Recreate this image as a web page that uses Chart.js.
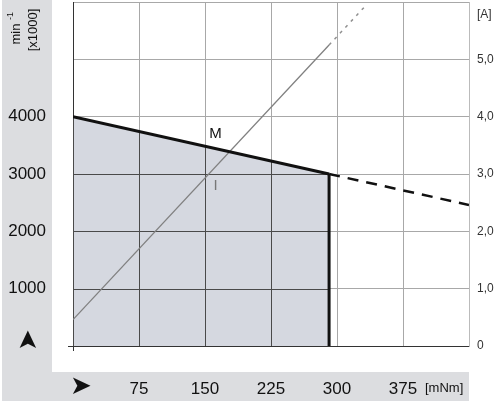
<!DOCTYPE html>
<html>
<head>
<meta charset="utf-8">
<script src="https://cdn.jsdelivr.net/npm/chart.js@4/dist/chart.umd.min.js"></script>
<style>
  html, body { margin: 0; padding: 0; background: #fff; }
  #wrap { width: 500px; height: 403px; }
</style>
</head>
<body>
<div id="wrap"><canvas id="motorChart" width="500" height="403"></canvas></div>
<script>
// torque [mNm] / speed [min-1] / current [A]
const torqueM = [0, 291];
const speedM = [4000, 3000];
const torqueMExt = [291, 450];
const speedMExt = [3000, 2460];
const torqueStall = [291, 291];
const speedStall = [3000, 0];
const torqueI = [0, 291];
const currentI = [0.46, 5.25];
const torqueIExt = [291, 334];
const currentIExt = [5.25, 5.96];

const xTicks = [0, 75, 150, 225, 300, 375, 450];
const yTicks = [0, 1000, 2000, 3000, 4000, 5000, 6000];
const y2Ticks = [0, 1, 2, 3, 4, 5, 6];

// curve names, placed in data coords (rpm scale)
const curveLabels = [
  { text: "M", x: 162, y: 3700, color: "#111" },
  { text: "I", x: 162, y: 2800, color: "#777" }
];

const FONT = "'Liberation Sans', Arial, Helvetica, sans-serif";
const pts = (xs, ys) => xs.map((x, i) => ({ x: x, y: ys[i] }));
const noPad = s => { s.paddingTop = 0; s.paddingBottom = 0; s.paddingLeft = 0; s.paddingRight = 0; };

const decorPlugin = {
  id: "decor",
  beforeDraw(chart) {
    const ctx = chart.ctx;
    ctx.save();
    ctx.fillStyle = "#fff";
    ctx.fillRect(0, 0, chart.width, chart.height);
    // grey bands
    ctx.fillStyle = "#dcdde0";
    ctx.fillRect(2, 0, 50, 401);
    ctx.fillRect(2, 372, chart.chartArea.right - 2, 29);
    ctx.restore();
  },
  beforeDatasetsDraw(chart) {
    // grid looks darker where it runs through the shaded area
    const ctx = chart.ctx;
    const x = chart.scales.x, y = chart.scales.y;
    const m = chart.getDatasetMeta(0).data;
    const base = y.getPixelForValue(0);
    ctx.save();
    ctx.beginPath();
    ctx.moveTo(m[0].x, base);
    m.forEach(p => ctx.lineTo(p.x, p.y));
    ctx.lineTo(m[m.length - 1].x, base);
    ctx.closePath();
    ctx.clip();
    ctx.strokeStyle = "#4a4a4a";
    ctx.lineWidth = 1;
    ctx.beginPath();
    xTicks.forEach(t => {
      const px = Math.round(x.getPixelForValue(t)) + 0.5;
      ctx.moveTo(px, chart.chartArea.top);
      ctx.lineTo(px, base);
    });
    yTicks.forEach(t => {
      const py = Math.round(y.getPixelForValue(t)) + 0.5;
      ctx.moveTo(chart.chartArea.left, py);
      ctx.lineTo(chart.chartArea.right, py);
    });
    ctx.stroke();
    ctx.restore();
  },
  afterDraw(chart) {
    const ctx = chart.ctx;
    const x = chart.scales.x, y = chart.scales.y, area = chart.chartArea;
    ctx.save();
    // axis arrows
    ctx.fillStyle = "#111";
    ctx.font = "26px 'DejaVu Sans', sans-serif";
    ctx.textAlign = "center";
    ctx.textBaseline = "middle";
    ctx.save();
    ctx.translate(29, y.getPixelForValue(0) - 6);
    ctx.rotate(-Math.PI / 2);
    ctx.fillText("➤", 0, 0);
    ctx.restore();
    ctx.fillText("➤", x.getPixelForValue(0) + 8, 387);
    // units
    ctx.font = "13px " + FONT;
    ctx.textAlign = "left";
    ctx.fillText("[mNm]", 425, 388);
    ctx.fillStyle = "#333";
    ctx.font = "12px " + FONT;
    ctx.fillText("[A]", 477, 15);
    ctx.fillStyle = "#111";
    ctx.save();
    ctx.translate(16, 30);
    ctx.rotate(-Math.PI / 2);
    ctx.textAlign = "center";
    ctx.font = "13px " + FONT;
    ctx.fillText("min", -4, 0);
    ctx.font = "9px " + FONT;
    ctx.fillText("-1", 14, -5);
    ctx.restore();
    ctx.save();
    ctx.translate(33, 30);
    ctx.rotate(-Math.PI / 2);
    ctx.textAlign = "center";
    ctx.font = "13px " + FONT;
    ctx.fillText("[x1000]", 0, 0);
    ctx.restore();
    // corner tick marks
    ctx.strokeStyle = "#333";
    ctx.lineWidth = 1;
    ctx.beginPath();
    ctx.moveTo(area.left - 5, area.bottom + 0.5);
    ctx.lineTo(area.left, area.bottom + 0.5);
    ctx.moveTo(area.left + 0.5, area.bottom);
    ctx.lineTo(area.left + 0.5, area.bottom + 5);
    ctx.stroke();
    // curve names
    ctx.font = "15px " + FONT;
    ctx.textAlign = "center";
    curveLabels.forEach(l => {
      ctx.fillStyle = l.color;
      ctx.fillText(l.text, x.getPixelForValue(l.x), y.getPixelForValue(l.y));
    });
    ctx.restore();
  }
};

new Chart(document.getElementById("motorChart"), {
  type: "line",
  data: {
    datasets: [
      {
        data: pts(torqueM, speedM),
        borderColor: "#111",
        borderWidth: 3,
        backgroundColor: "#d5d8e0",
        fill: "origin",
        yAxisID: "y"
      },
      {
        data: pts(torqueMExt, speedMExt),
        borderColor: "#111",
        borderWidth: 2.5,
        borderDash: [11, 8],
        fill: false,
        yAxisID: "y"
      },
      {
        data: pts(torqueStall, speedStall),
        borderColor: "#111",
        borderWidth: 3,
        fill: false,
        yAxisID: "y"
      },
      {
        data: pts(torqueI, currentI),
        borderColor: "#808080",
        borderWidth: 1.3,
        fill: false,
        yAxisID: "y2"
      },
      {
        data: pts(torqueIExt, currentIExt),
        borderColor: "#909090",
        borderWidth: 1.5,
        borderDash: [3, 5],
        fill: false,
        yAxisID: "y2"
      }
    ]
  },
  options: {
    responsive: false,
    animation: false,
    layout: { padding: { top: 2, left: 0, right: 0, bottom: 0 } },
    elements: { point: { radius: 0 }, line: { tension: 0 } },
    plugins: {
      legend: { display: false },
      tooltip: { enabled: false },
      filler: { drawTime: "beforeDatasetsDraw" }
    },
    scales: {
      x: {
        type: "linear",
        min: 0,
        max: 450,
        afterBuildTicks: s => { s.ticks = xTicks.map(v => ({ value: v })); },
        afterFit: s => { s.height = 57; noPad(s); },
        grid: { color: "#a8a8a8", lineWidth: 1, drawTicks: false },
        border: { display: true, color: "#333", width: 1 },
        ticks: {
          padding: 33,
          color: "#111",
          font: { family: FONT, size: 17 },
          maxRotation: 0,
          callback: v => (v === 0 || v === 450) ? "" : String(v)
        }
      },
      y: {
        type: "linear",
        position: "left",
        min: 0,
        max: 6000,
        afterBuildTicks: s => { s.ticks = yTicks.map(v => ({ value: v })); },
        afterFit: s => { s.width = 73; noPad(s); },
        grid: { color: "#a8a8a8", lineWidth: 1, drawTicks: false },
        border: { display: true, color: "#333", width: 1 },
        ticks: {
          padding: 27,
          color: "#111",
          font: { family: FONT, size: 17 },
          callback: v => (v === 0 || v >= 5000) ? "" : String(v)
        }
      },
      y2: {
        type: "linear",
        position: "right",
        min: 0,
        max: 6,
        afterBuildTicks: s => { s.ticks = y2Ticks.map(v => ({ value: v })); },
        afterFit: s => { s.width = 31; noPad(s); },
        grid: { display: false, drawTicks: false },
        border: { display: true, color: "#bbb", width: 1 },
        ticks: {
          padding: 8,
          color: "#333",
          font: { family: FONT, size: 12 },
          callback: v => v === 6 ? "" : (v === 0 ? "0" : v.toFixed(1).replace(".", ","))
        }
      }
    }
  },
  plugins: [decorPlugin]
});
</script>
</body>
</html>
